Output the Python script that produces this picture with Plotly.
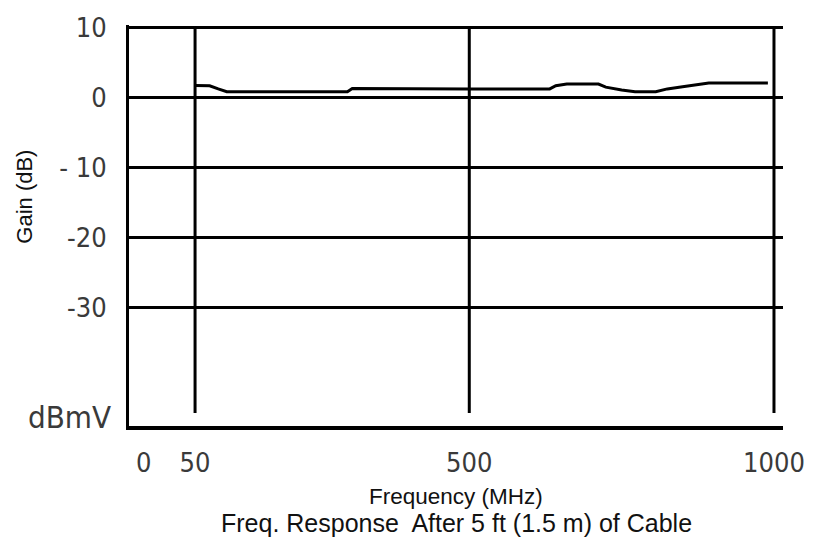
import plotly.graph_objects as go

# Data
freq_mhz = [50, 74, 88, 102, 300, 308, 500, 632, 642, 660, 712, 724, 750, 772, 806, 825, 850, 872, 893, 990]
gain_db = [1.7, 1.65, 1.2, 0.8, 0.8, 1.25, 1.2, 1.2, 1.65, 1.9, 1.9, 1.45, 1.05, 0.8, 0.8, 1.2, 1.5, 1.75, 2.05, 2.05]

x_tick_vals = [50, 500, 1000]
x_tick_text = ["50", "500", "1000"]
x_origin_label = "0"
y_tick_vals = [10, 0, -10, -20, -30]
y_tick_text = ["10", "0", "- 10", "-20", "-30"]
vline_freqs = [50, 500, 1000]

tick_font = dict(family="DejaVu Sans Condensed, Liberation Sans Narrow, DejaVu Sans", size=27, color="#3a3a3a")
label_font = dict(family="Liberation Sans, Arial", size=22, color="#111111")

fig = go.Figure()
fig.add_trace(go.Scatter(x=freq_mhz, y=gain_db, mode="lines",
                         line=dict(color="black", width=3), showlegend=False,
                         hoverinfo="skip"))

shapes = []
for f in vline_freqs:
    shapes.append(dict(type="line", xref="x", yref="y", x0=f, x1=f, y0=10, y1=-45.1,
                       line=dict(color="black", width=3), layer="above"))

fig.update_layout(
    width=835, height=551,
    margin=dict(l=121, r=60, t=17, b=133),
    paper_bgcolor="white", plot_bgcolor="white",
    showlegend=False,
    shapes=shapes,
    xaxis=dict(range=[-58.4, 1014.8], tickmode="array", tickvals=x_tick_vals, ticktext=x_tick_text,
               showgrid=False, zeroline=False, showline=True, linecolor="black", linewidth=4,
               ticks="", ticklabelstandoff=10, tickangle=0, tickfont=tick_font,
               fixedrange=True, automargin=False),
    yaxis=dict(range=[-46.96, 10.33], tickmode="array", tickvals=y_tick_vals, ticktext=y_tick_text,
               showgrid=True, gridcolor="black", gridwidth=3, zeroline=False,
               showline=True, linecolor="black", linewidth=3,
               ticks="", ticklabelstandoff=14, tickfont=tick_font, fixedrange=True, automargin=False),
    annotations=[
        dict(text="Gain (dB)", xref="paper", yref="y", x=0, y=-14.2, xanchor="center", yanchor="middle",
             xshift=-104, textangle=-90, showarrow=False, font=label_font),
        dict(text="dBmV", xref="paper", yref="y", x=0, y=-45.7, xanchor="right", yanchor="middle",
             xshift=-16, showarrow=False, font=dict(tick_font, size=31)),
        dict(text=x_origin_label, xref="x", yref="paper", x=0, y=0, xanchor="center", yanchor="top",
             xshift=-21, yshift=-19, showarrow=False, font=tick_font),
        dict(text="Frequency (MHz)", xref="paper", yref="paper", x=0.5, y=-0.1746,
             xanchor="center", yanchor="middle", showarrow=False, font=dict(label_font, size=22.5)),
        dict(text="Freq. Response\u00a0 After 5 ft (1.5 m) of Cable", xref="paper", yref="paper", x=0.5, y=-0.242,
             xanchor="center", yanchor="middle", showarrow=False, font=dict(label_font, size=25)),
    ],
)

fig.write_html("out.html")
